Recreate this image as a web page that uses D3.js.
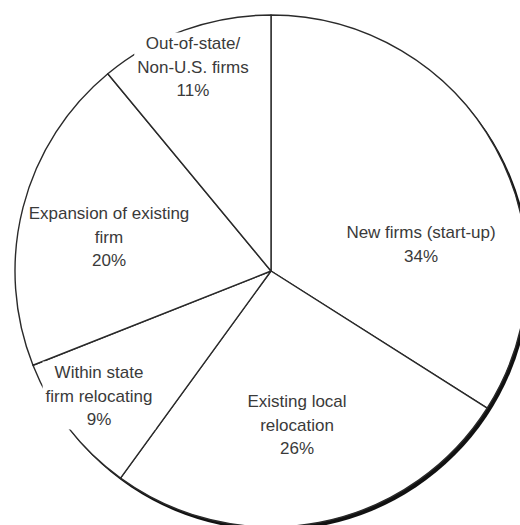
<!DOCTYPE html>
<html><head><meta charset="utf-8">
<script src="https://cdn.jsdelivr.net/npm/d3@7"></script>
<style>body{margin:0;background:#fff}svg{display:block}</style>
</head><body>
<svg id="c" width="520" height="525"></svg>
<script>
const categories = ["New firms (start-up)", "Existing local relocation", "Within state firm relocating", "Expansion of existing firm", "Out-of-state/ Non-U.S. firms"];
const values = [34, 26, 9, 20, 11];
const labelLines = [
  ["New firms (start-up)", "34%"],
  ["Existing local", "relocation", "26%"],
  ["Within state", "firm relocating", "9%"],
  ["Expansion of existing", "firm", "20%"],
  ["Out-of-state/", "Non-U.S. firms", "11%"]
];
// label anchor (centre of first line), relative to pie centre, as radius fraction & angle handled below
const labelPos = [
  [421, 232], [297, 401], [99, 372], [109, 213], [193, 43]
];

const svg = d3.select("#c");
const cx = 271, cy = 271, R = 256;
const g = svg.append("g").attr("transform", `translate(${cx},${cy})`);

// shadow
g.append("circle").attr("cx", 2.5).attr("cy", 3).attr("r", R + 0.5).attr("fill", "#111");

const pie = d3.pie().sort(null).value(d => d)(values);
const arc = d3.arc().innerRadius(0).outerRadius(R);
g.selectAll("path.slice").data(pie).join("path")
  .attr("class", "slice")
  .attr("d", arc)
  .attr("fill", "#fff")
  .attr("stroke", "#2a2a2a")
  .attr("stroke-width", 1.4)
  .attr("stroke-linejoin", "round");

const lh = 23.5;
const lab = svg.append("g").attr("font-family", "Liberation Sans, Arial, Helvetica, sans-serif")
  .attr("font-size", 17).attr("fill", "#3a3a3a").attr("text-anchor", "middle");

labelLines.forEach((lines, i) => {
  const [x, y] = labelPos[i];
  const grp = lab.append("g");
  const t = grp.append("text").attr("x", x).attr("y", y).attr("dominant-baseline", "central");
  lines.forEach((s, k) => t.append("tspan").attr("x", x).attr("y", y + k * lh).text(s));
  if (i === 2 || i === 4) {
    const bb = t.node().getBBox();
    grp.insert("rect", "text").attr("x", bb.x - 3).attr("y", bb.y - 1)
      .attr("width", bb.width + 6).attr("height", bb.height + 2).attr("fill", "#fff");
  }
});
</script>
</body></html>
